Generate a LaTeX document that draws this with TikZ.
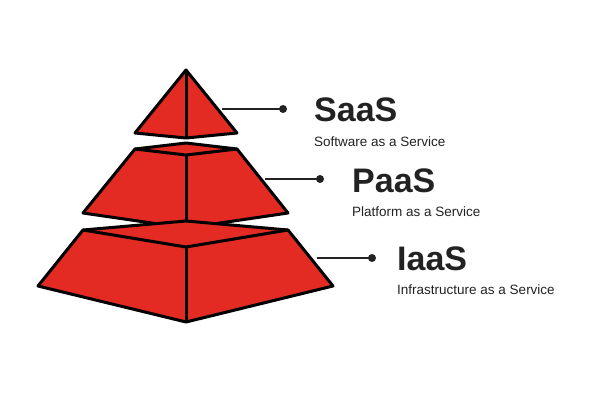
\documentclass[tikz,border=0pt]{standalone}
\usepackage{fontspec}
\setmainfont{Liberation Sans}
\definecolor{pred}{HTML}{E32B24}
\definecolor{txt}{HTML}{222222}
\begin{document}
\begin{tikzpicture}[x=1pt,y=-1pt,
  face/.style={fill=pred,draw=black,line width=3pt,line join=round},
  edge/.style={draw=black,line width=3pt},
  lead/.style={draw=txt,line width=1.4pt},
  dotm/.style={circle,fill=txt,inner sep=0pt,minimum size=8pt},
  ttl/.style={anchor=base west,inner sep=0pt,text=txt,font=\bfseries\fontsize{34}{36}\selectfont},
  sub/.style={anchor=base west,inner sep=0pt,text=txt,font=\fontsize{13.5}{15}\selectfont}]
\useasboundingbox (0,0) rectangle (600,400);
% top tier
\draw[face] (186,70) -- (237,133) -- (186,138) -- (135,133) -- cycle;
\draw[edge] (186,70) -- (186,138);
% middle tier
\draw[face] (135,149) -- (186,143) -- (237,149) -- (288,213) -- (186,228) -- (83,213) -- cycle;
\draw[edge] (135,149) -- (186,155) -- (237,149);
\draw[edge] (186,155) -- (186,228);
% bottom tier
\draw[face] (83,230) -- (186,221) -- (288,230) -- (333,286) -- (186,322) -- (38,286) -- cycle;
\draw[edge] (83,230) -- (186,247) -- (288,230);
\draw[edge] (186,247) -- (186,322);
% leaders
\coordinate (s0) at (222,109); \node[dotm] (s1) at (283,109) {};
\coordinate (p0) at (265,179); \node[dotm] (p1) at (320,179) {};
\coordinate (i0) at (317,258); \node[dotm] (i1) at (372,258) {};
\draw[lead] (s0) -- (s1.center);
\draw[lead] (p0) -- (p1.center);
\draw[lead] (i0) -- (i1.center);
\node[ttl] (st) at (314,121) {SaaS};
\node[sub] (ss) at (314,146) {Software as a Service};
\node[ttl] (pt) at (352,192) {PaaS};
\node[sub] (ps) at (352,216) {Platform as a Service};
\node[ttl] (it) at (397,270) {IaaS};
\node[sub] (is) at (397,294) {Infrastructure as a Service};
\end{tikzpicture}
\end{document}
